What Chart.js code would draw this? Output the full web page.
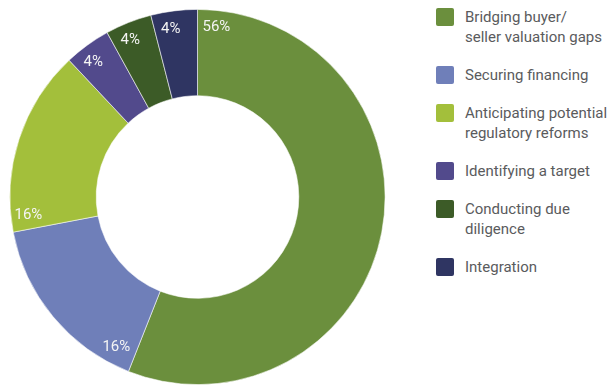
<!DOCTYPE html>
<html lang="en">
<head>
  <meta charset="UTF-8" />
  <title>Biggest deal challenges</title>
  <script src="https://cdn.jsdelivr.net/npm/chart.js"></script>
  <style>
    body { margin: 0; background: #fff; font-family: Roboto, sans-serif; }
    .wrap { position: relative; width: 609px; height: 385px; }
    .chart-box { position: absolute; left: 0; top: 0; width: 395px; height: 385px; }
    .legend { position: absolute; left: 436px; top: 8px; list-style: none; margin: 0; padding: 0; }
    .legend li { display: flex; align-items: flex-start; margin-bottom: 18px; }
    .legend .swatch { width: 18px; height: 18px; border-radius: 2px; flex: none; }
    .legend .text { margin-left: 11px; color: #5a5b5d; font-size: 15px; line-height: 20px; position: relative; top: -1px; }
  </style>
</head>
<body>
  <div class="wrap">
    <div class="chart-box"><canvas id="donut"></canvas></div>
    <ul class="legend" id="legend"></ul>
  </div>

  <script>
    const labels = [
      ['Bridging buyer/', 'seller valuation gaps'],
      ['Securing financing'],
      ['Anticipating potential', 'regulatory reforms'],
      ['Identifying a target'],
      ['Conducting due', 'diligence'],
      ['Integration']
    ];
    const shares = [56, 16, 16, 4, 4, 4];
    const colors = ['#6b8f3d', '#6f7fb9', '#a3bf3b', '#524a8c', '#3c5b27', '#2f3562'];

    // legend on the right, one entry per segment
    const legend = document.getElementById('legend');
    labels.forEach((lines, i) => {
      const li = document.createElement('li');
      li.innerHTML = `<span class="swatch" style="background:${colors[i]}"></span>` +
        `<span class="text">${lines.join('<br>')}</span>`;
      legend.appendChild(li);
    });

    // percentage written just inside the leading edge of each slice
    const edgeLabels = {
      id: 'edgeLabels',
      afterDatasetsDraw(chart) {
        const ctx = chart.ctx;
        const meta = chart.getDatasetMeta(0);
        ctx.save();
        ctx.font = '15px Roboto, sans-serif';
        ctx.fillStyle = '#f4f4f4';
        ctx.textAlign = 'center';
        ctx.textBaseline = 'middle';
        meta.data.forEach((arc, i) => {
          const text = shares[i] + '%';
          const w = ctx.measureText(text).width / 2;
          const h = 6;
          const a = arc.startAngle;
          const ux = Math.cos(a), uy = Math.sin(a);
          // clockwise normal
          const nx = -uy, ny = ux;
          const off = w * Math.abs(nx) + h * Math.abs(ny) + 5;
          const r = arc.outerRadius - 18;
          ctx.fillText(text, arc.x + ux * r + nx * off, arc.y + uy * r + ny * off);
        });
        ctx.restore();
      }
    };

    new Chart(document.getElementById('donut'), {
      type: 'doughnut',
      data: {
        labels: labels.map(l => l.join(' ')),
        datasets: [{
          data: shares,
          backgroundColor: colors,
          borderColor: 'rgba(255,255,255,0.7)',
          borderWidth: 0.8
        }]
      },
      options: {
        responsive: true,
        maintainAspectRatio: false,
        animation: false,
        cutout: '54%',
        layout: { padding: { top: 9 } },
        plugins: { legend: { display: false }, tooltip: { enabled: false } }
      },
      plugins: [edgeLabels]
    });
  </script>
</body>
</html>
